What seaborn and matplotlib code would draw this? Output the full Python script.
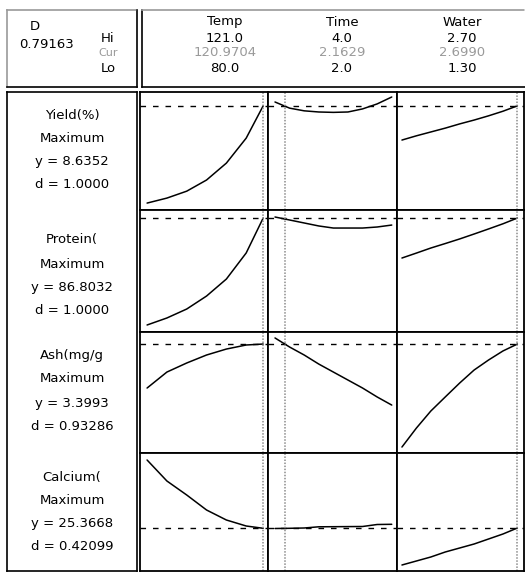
# Minitab style response optimizer plot redrawn with seaborn

import numpy as np
import pandas as pd
import seaborn as sns
import matplotlib.pyplot as plt

sns.set_style('white')
plt.rcParams['font.family'] = ['DejaVu Sans']
plt.rcParams['text.color'] = 'black'

# factors (columns)
factors = ['Temp', 'Time', 'Water']
f_hi = ['121.0', '4.0', '2.70']
f_cur_txt = ['120.9704', '2.1629', '2.6990']
f_lo = ['80.0', '2.0', '1.30']
f_cur = [120.9704, 2.1629, 2.6990]
f_lim = [(77.5, 122.7), (1.88, 4.09), (1.24, 2.78)]

# responses (rows)
responses = ['Yield(%)', 'Protein(', 'Ash(mg/g', 'Calcium(']
goals = ['Maximum', 'Maximum', 'Maximum', 'Maximum']
y_cur = [8.6352, 86.8032, 3.3993, 25.3668]
y_txt = ['8.6352', '86.8032', '3.3993', '25.3668']
d_txt = ['1.0000', '1.0000', '0.93286', '0.42099']
r_lim = [(5.93, 9.0), (76.88, 87.5), (2.485, 3.5), (21.1, 32.9)]
D_txt = '0.79163'

# factor settings along each curve
temp_x = [80, 87, 94, 101, 108, 115, 121]
time_x = [2.0, 2.25, 2.5, 2.75, 3.0, 3.25, 3.5, 3.75, 4.0]
water_x = [1.3, 1.475, 1.65, 1.825, 2.0, 2.175, 2.35, 2.525, 2.7]

# predicted responses
yield_temp = [6.11, 6.24, 6.42, 6.71, 7.15, 7.80, 8.64]
yield_time = [8.74, 8.58, 8.51, 8.48, 8.47, 8.48, 8.56, 8.69, 8.87]
yield_water = [7.75, 7.86, 7.96, 8.06, 8.17, 8.27, 8.38, 8.50, 8.64]

protein_temp = [77.49, 78.10, 78.88, 80.01, 81.49, 83.76, 86.80]
protein_time = [86.89, 86.63, 86.37, 86.11, 85.93, 85.93, 85.93, 86.02, 86.19]
protein_water = [83.32, 83.75, 84.19, 84.58, 84.98, 85.41, 85.85, 86.30, 86.80]

ash_temp = [3.030, 3.164, 3.240, 3.307, 3.357, 3.391, 3.399]
ash_time = [3.450, 3.374, 3.307, 3.231, 3.164, 3.097, 3.030, 2.955, 2.887]
ash_water = [2.535, 2.694, 2.837, 2.955, 3.072, 3.181, 3.265, 3.341, 3.399]

calcium_temp = [32.2, 30.1, 28.7, 27.2, 26.2, 25.6, 25.37]
calcium_time = [25.35, 25.37, 25.40, 25.52, 25.53, 25.54, 25.55, 25.75, 25.77]
calcium_water = [21.7, 22.1, 22.5, 23.0, 23.4, 23.8, 24.3, 24.8, 25.4]

curves = [[yield_temp, yield_time, yield_water],
          [protein_temp, protein_time, protein_water],
          [ash_temp, ash_time, ash_water],
          [calcium_temp, calcium_time, calcium_water]]
xs = [temp_x, time_x, water_x]

W, H = 525, 572
fig = plt.figure(figsize=(W / 100, H / 100), dpi=100)


def box(x0, y0, x1, y1):
    # axes placed by pixel corners
    return fig.add_axes([x0 / W, 1 - y1 / H, (x1 - x0) / W, (y1 - y0) / H])


def txt(x, y, s, size=9.5, color='black'):
    fig.text(x / W, 1 - y / H, s, ha='center', va='center', fontsize=size, color=color)


# grid of panels
row_top = [92, 210, 332, 453]
row_bot = [210, 332, 453, 571]
col_left = [140, 268, 397]
col_right = [268, 397, 524]

for i in range(4):
    for j in range(3):
        ax = box(col_left[j], row_top[i], col_right[j], row_bot[i])
        df = pd.DataFrame({'x': xs[j], 'y': curves[i][j]})
        sns.lineplot(data=df, x='x', y='y', ax=ax, color='black', lw=1.1)
        ax.axhline(y_cur[i], color='black', lw=1, ls=(0, (4, 5)))
        ax.axvline(f_cur[j], color='#8c8c8c', lw=1.1, ls=(0, (1, 1)))
        ax.set_xlim(f_lim[j])
        ax.set_ylim(r_lim[i])
        ax.set_xticks([])
        ax.set_yticks([])
        ax.set_xlabel('')
        ax.set_ylabel('')
        for sp in ax.spines.values():
            sp.set_color('black')
            sp.set_linewidth(1.3)

# label panel on the left
lab = box(7, 92, 137, 571)
lab.set_xticks([])
lab.set_yticks([])
for sp in lab.spines.values():
    sp.set_color('black')
    sp.set_linewidth(1.2)

label_y = [[115, 138, 161, 185], [240, 264, 287, 310],
           [355, 379, 403, 427], [477, 500, 523, 547]]
for i in range(4):
    txt(72, label_y[i][0], responses[i])
    txt(72, label_y[i][1], goals[i])
    txt(72, label_y[i][2], 'y = ' + y_txt[i])
    txt(72, label_y[i][3], 'd = ' + d_txt[i])

# header boxes
for x0, x1 in [(7, 137), (142, 525)]:
    hb = box(x0, 10, x1, 87)
    hb.set_xticks([])
    hb.set_yticks([])
    hb.spines['top'].set_color('#9a9a9a')
    hb.spines['top'].set_linestyle((0, (1, 1)))
    hb.spines['left'].set_color('black' if x0 > 100 else '#9a9a9a')
    hb.spines['right'].set_color('black')
    hb.spines['bottom'].set_color('black')
    for sp in hb.spines.values():
        sp.set_linewidth(1.2)
    if x0 > 100:
        hb.spines['right'].set_visible(False)

txt(35, 27, 'D')
txt(46, 45, D_txt)
txt(108, 39, 'Hi')
txt(108, 53, 'Cur', size=8, color='#9a9a9a')
txt(108, 69, 'Lo')

col_cx = [225, 342, 462]
for j in range(3):
    txt(col_cx[j], 22, factors[j])
    txt(col_cx[j], 38, f_hi[j])
    txt(col_cx[j], 53, f_cur_txt[j], color='#9a9a9a')
    txt(col_cx[j], 69, f_lo[j])

plt.savefig('out.png', dpi=100)
